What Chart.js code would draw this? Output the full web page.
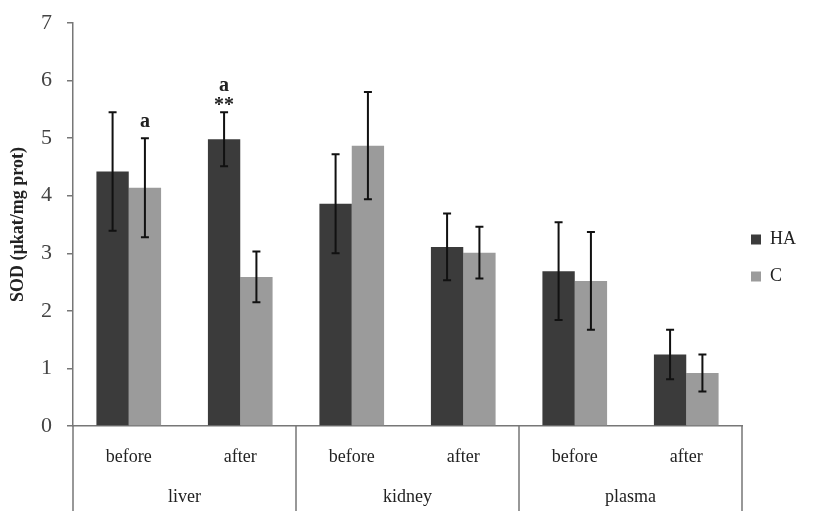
<!DOCTYPE html>
<html><head><meta charset="utf-8">
<script src="https://cdn.jsdelivr.net/npm/chart.js@4/dist/chart.umd.min.js"></script>
<style>html,body{margin:0;padding:0;background:#fff}#wrap{width:836px;height:511px}</style>
</head><body><div id="wrap"><canvas id="c"></canvas></div>
<script>
const phases = ["before","after","before","after","before","after"];
const tissues = ["liver","kidney","plasma"];
const haValues = [4.42, 4.98, 3.86, 3.11, 2.69, 1.24];
const haErrors = [1.03, 0.47, 0.86, 0.58, 0.85, 0.43];
const cValues = [4.14, 2.59, 4.87, 3.01, 2.52, 0.92];
const cErrors = [0.86, 0.44, 0.93, 0.45, 0.85, 0.32];
const yTicks = [0,1,2,3,4,5,6,7];
const marks = [
  {dataset:1, index:0, texts:["a"]},
  {dataset:0, index:1, texts:["**","a"]}
];
const errs = [haErrors, cErrors];
const SERIF = '"Liberation Serif", "Times New Roman", serif';

const extras = {
  id:'extras',
  afterLayout(chart){
    const lg = chart.legend;
    if (lg) { lg.top -= 9; lg.bottom -= 9; lg.left -= 10; lg.right -= 10; }
  },
  afterDatasetsDraw(chart){
    const ctx = chart.ctx, x = chart.scales.x, y = chart.scales.y;
    ctx.save();
    ctx.strokeStyle = '#111'; ctx.lineWidth = 2;
    chart.data.datasets.forEach((ds, di) => {
      const meta = chart.getDatasetMeta(di);
      meta.data.forEach((bar, i) => {
        const v = ds.data[i], e = errs[di][i];
        const top = y.getPixelForValue(v + e), bot = y.getPixelForValue(v - e);
        const cx = bar.x;
        ctx.beginPath();
        ctx.moveTo(cx, top); ctx.lineTo(cx, bot);
        ctx.moveTo(cx-4, top); ctx.lineTo(cx+4, top);
        ctx.moveTo(cx-4, bot); ctx.lineTo(cx+4, bot);
        ctx.stroke();
      });
    });
    ctx.fillStyle = '#222';
    ctx.font = 'bold 20px ' + SERIF;
    ctx.textAlign = 'center'; ctx.textBaseline = 'middle';
    marks.forEach(m => {
      const bar = chart.getDatasetMeta(m.dataset).data[m.index];
      const v = chart.data.datasets[m.dataset].data[m.index] + errs[m.dataset][m.index];
      let py = y.getPixelForValue(v);
      m.texts.forEach(t => {
        if (t === '**') { ctx.fillText(t, bar.x, py - 6); py -= 10; }
        else { ctx.fillText(t, bar.x, py - 16); py -= 17; }
      });
    });
    ctx.strokeStyle = '#777'; ctx.lineWidth = 1.5;
    const H = chart.height;
    const half = (x.getPixelForValue(1) - x.getPixelForValue(0)) / 2;
    ctx.beginPath();
    ctx.moveTo(x.left, y.bottom); ctx.lineTo(x.left, H);
    for (let g = 0; g < tissues.length; g++) {
      const px = x.getPixelForValue(g*2 + 1) + half;
      ctx.moveTo(px, y.bottom); ctx.lineTo(px, H);
    }
    ctx.stroke();
    ctx.fillStyle = '#222';
    ctx.font = '18px ' + SERIF;
    ctx.textBaseline = 'middle';
    tissues.forEach((t, g) => {
      const px = (x.getPixelForValue(g*2) + x.getPixelForValue(g*2+1)) / 2;
      ctx.fillText(t, px, 497);
    });
    ctx.restore();
  }
};

new Chart(document.getElementById('c'), {
  type: 'bar',
  data: {
    labels: phases,
    datasets: [
      {label:'HA', data: haValues, backgroundColor:'#3b3b3b', categoryPercentage:0.58, barPercentage:1.0},
      {label:'C', data: cValues, backgroundColor:'#9b9b9b', categoryPercentage:0.58, barPercentage:1.0}
    ]
  },
  options: {
    responsive: true, maintainAspectRatio: false, animation: false,
    devicePixelRatio: 1,
    layout: {padding: {left: 0, right: 20, top: 23, bottom: 0}},
    plugins: {
      tooltip: {enabled: false},
      legend: {
        position: 'right',
        labels: {boxWidth: 10, boxHeight: 10, padding: 19, color: '#222', font: {family: SERIF, size: 18}}
      }
    },
    scales: {
      x: {
        grid: {display: false, drawTicks: false},
        border: {display: true, color: '#777', width: 1.5},
        ticks: {padding: 20, color: '#222', font: {family: SERIF, size: 18}, maxRotation: 0},
        afterFit(s){ s.height = 85; }
      },
      y: {
        min: 0, max: 7,
        afterBuildTicks(s){ s.ticks = yTicks.map(v => ({value: v})); },
        grid: {drawOnChartArea: false, drawTicks: true, tickLength: 6, color: '#777', lineWidth: 1.5},
        border: {display: true, color: '#777', width: 1.5},
        ticks: {padding: 15, color: '#444', font: {family: SERIF, size: 22}},
        title: {display: true, text: 'SOD (µkat/mg prot)', color: '#222', padding: {top: 8, bottom: 0}, font: {family: SERIF, size: 18, weight: 'bold'}},
        afterFit(s){ s.width = 73; s.paddingTop = 0; s.paddingBottom = 0; }
      }
    }
  },
  plugins: [extras]
});
</script></body></html>
